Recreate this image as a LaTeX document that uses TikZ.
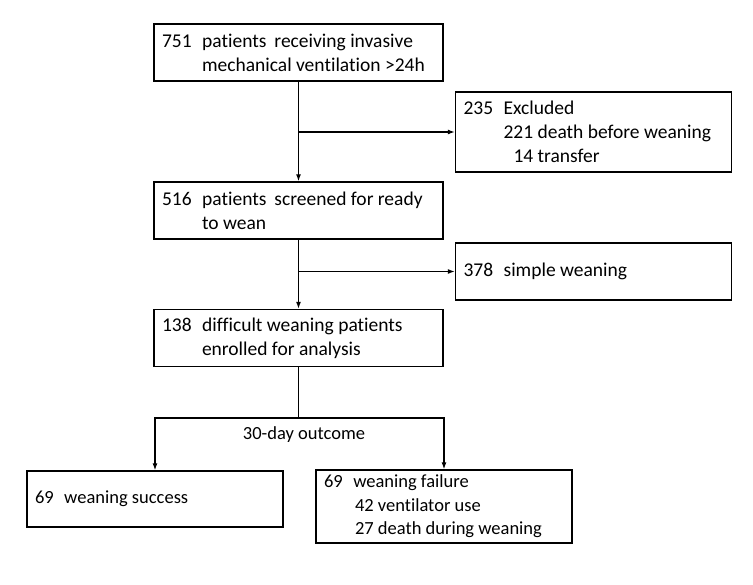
\documentclass[tikz,border=0pt]{standalone}
\usepackage{fontspec}
\setmainfont{Carlito}[Ligatures=NoCommon]
\usetikzlibrary{arrows.meta}
\newcommand{\gap}{\hspace{10.5pt}}
\tikzset{
  box/.style={draw, line width=1.3pt, inner xsep=8pt, inner ysep=0pt, align=flush left, font=\fontsize{19.5}{24}\selectfont},
  smallbox/.style={box, font=\fontsize{18.5}{23.5}\selectfont},
  arr/.style={line width=1.3pt, -{Latex[length=7pt,width=5pt]}}
}
\begin{document}
\begin{tikzpicture}[x=1pt, y=-1pt]
	\useasboundingbox (0,0) rectangle (753,585);
	% Main column
	\node[box, text width=273pt, minimum height=57pt] (enroll) at (298.5,52.5)
		{751\gap patients\hspace{8pt}receiving invasive\\\hspace*{40pt}mechanical ventilation >24h};
	\node[box, text width=273pt, minimum height=57pt] (screen) at (298.5,210.5)
		{516\gap patients\hspace{8pt}screened for ready\\\hspace*{40pt}to wean};
	\node[box, text width=273pt, minimum height=57pt] (difficult) at (298.5,338)
		{138\gap difficult weaning patients\\\hspace*{40pt}enrolled for analysis};
	
	% Side boxes
	\node[box, text width=260pt, minimum height=80pt] (excluded) at (593.5,132)
		{235\gap Excluded\\\hspace*{40pt}221 death before weaning\\\hspace*{50pt}14 transfer};
	\node[box, text width=260pt, minimum height=57pt] (simple) at (593.5,271.5)
		{378\gap simple weaning};
	
	% Outcome boxes
	\node[smallbox, text width=240pt, minimum height=56pt] (success) at (155,499)
		{69\gap weaning success};
	\node[smallbox, text width=240pt, minimum height=73pt] (failure) at (444,506.5)
		{69\gap weaning failure\\\hspace*{31pt}42 ventilator use\\\hspace*{31pt}27 death during weaning};
	
	% Arrows
	\draw[arr] (enroll.south) -- (screen.north);
	\draw[arr] (enroll.south |- excluded.west) -- (excluded.west);
	\draw[arr] (screen.south) -- (difficult.north);
	\draw[arr] (screen.south |- simple.west) -- (simple.west);
	
	% Split for 30-day outcome
	\coordinate (split) at (298.5,418);
	\draw[line width=1.3pt] (difficult.south) -- (split);
	\draw[arr] (split) -| (success.north);
	\draw[arr] (split) -| (failure.north);
	\node[font=\fontsize{18.5}{23.5}\selectfont] (outcome) at (304,435) {30-day outcome};
\end{tikzpicture}
\end{document}
